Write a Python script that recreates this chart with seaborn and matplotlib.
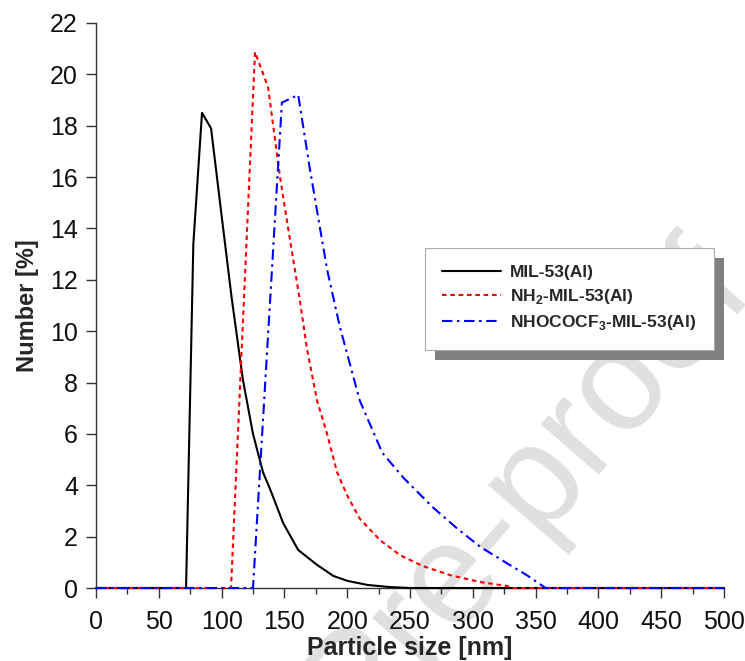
import numpy as np
import pandas as pd
import seaborn as sns
import matplotlib.pyplot as plt
from matplotlib.patches import Rectangle
from matplotlib.ticker import MultipleLocator

# particle size distributions
size_mil53 = [0, 71.7, 77.5, 84.4, 91.6, 100, 108, 117, 125, 133, 139, 149, 161, 176, 189, 200, 216, 233, 250, 500]
num_mil53 = [0, 0, 13.4, 18.5, 17.9, 14.5, 11.3, 8.1, 6.0, 4.5, 3.8, 2.53, 1.48, 0.9, 0.47, 0.28, 0.12, 0.04, 0, 0]

size_nh2 = [0, 107.5, 126.6, 137, 146.5, 154, 162, 168, 176, 184, 192, 200, 210, 226, 242, 260, 282, 306, 327, 332, 500]
num_nh2 = [0, 0, 20.87, 19.5, 16.0, 13.7, 11.3, 9.3, 7.3, 6.0, 4.5, 3.6, 2.7, 1.87, 1.28, 0.86, 0.5, 0.23, 0.08, 0, 0]

size_cf3 = [0, 125, 148, 161, 170, 184, 194, 210, 228, 245, 268, 287, 306, 327, 343, 358, 500]
num_cf3 = [0, 0, 18.9, 19.2, 16.4, 12.4, 10.2, 7.3, 5.26, 4.28, 3.15, 2.34, 1.6, 0.97, 0.5, 0, 0]

labels = ["MIL-53(Al)", r"NH$_\mathbf{2}$-MIL-53(Al)", r"NHOCOCF$_\mathbf{3}$-MIL-53(Al)"]
colors = ["black", "red", "blue"]
styles = ["-", (0, (2.2, 1.8)), (0, (5, 2.2, 1.2, 2.2))]

df = pd.concat([
    pd.DataFrame({"size": size_mil53, "number": num_mil53, "sample": labels[0]}),
    pd.DataFrame({"size": size_nh2, "number": num_nh2, "sample": labels[1]}),
    pd.DataFrame({"size": size_cf3, "number": num_cf3, "sample": labels[2]}),
])

sns.set_style("ticks")
plt.rcParams["font.family"] = ["Liberation Sans", "DejaVu Sans"]
plt.rcParams["mathtext.fontset"] = "custom"
plt.rcParams["mathtext.rm"] = "Liberation Sans"
plt.rcParams["mathtext.bf"] = "Liberation Sans:bold"

fig = plt.figure(figsize=(7.45, 6.61), dpi=100)
ax = fig.add_axes([96 / 745, 73 / 661, 628 / 745, 565 / 661])

# faint watermark, behind everything
fig.text(527 / 745, 1 - 487 / 661, "Pre-proof", fontsize=104, color="#e0e0e0",
         rotation=49, rotation_mode="anchor", ha="center", va="center", zorder=-1)
ax.patch.set_alpha(0)

for lab, col, ls in zip(labels, colors, styles):
    sub = df[df["sample"] == lab]
    sns.lineplot(data=sub, x="size", y="number", ax=ax, color=col, linestyle=ls,
                 linewidth=1.5, label=lab, clip_on=False, zorder=3)

ax.set_xlim(0, 500)
ax.set_ylim(0, 22)
ax.xaxis.set_major_locator(MultipleLocator(50))
ax.xaxis.set_minor_locator(MultipleLocator(25))
ax.yaxis.set_major_locator(MultipleLocator(2))
ax.tick_params(axis="both", which="major", direction="out", length=7, width=1,
               labelsize=18, color="#333333", labelcolor="#111111")
ax.tick_params(axis="x", which="major", pad=9)
ax.tick_params(axis="y", which="major", pad=6)
ax.tick_params(axis="x", which="minor", direction="out", length=4, width=1, color="#333333")
sns.despine(ax=ax)
for sp in ["left", "bottom"]:
    ax.spines[sp].set_color("#333333")
    ax.spines[sp].set_linewidth(1)

ax.set_xlabel("Particle size [nm]", fontsize=18, fontweight="bold", labelpad=1)
ax.set_ylabel("Number [%]", fontsize=17, fontweight="bold", labelpad=8)

leg = ax.legend(loc="upper left", bbox_to_anchor=(0.524, 0.602), borderaxespad=0,
                prop={"weight": "bold", "size": 12.5}, frameon=True, fancybox=False,
                edgecolor="#aaaaaa", framealpha=1, handlelength=3.4, borderpad=1.0,
                labelspacing=0.4, handletextpad=0.5)
leg.get_frame().set_linewidth(0.8)
leg.set_zorder(5)

# drop shadow behind the legend box
fig.canvas.draw()
bb = leg.get_window_extent().transformed(fig.transFigure.inverted())
off_x, off_y = 10 / 745, 10 / 661
ax.add_patch(Rectangle((bb.x0 + off_x, bb.y0 - off_y), bb.width, bb.height,
                       transform=fig.transFigure, facecolor="#808080", edgecolor="none",
                       zorder=4, clip_on=False))

fig.savefig("out.png", dpi=100)
